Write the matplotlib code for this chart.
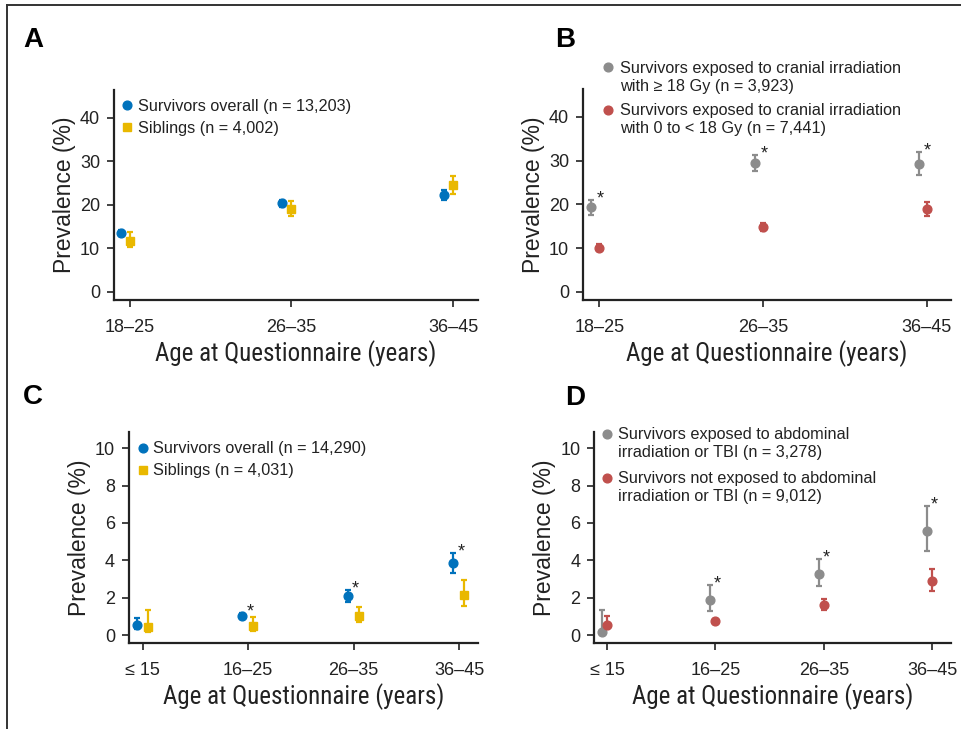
import matplotlib
matplotlib.use("Agg")
import matplotlib.pyplot as plt
from matplotlib.lines import Line2D
from matplotlib import font_manager as fm
import numpy as np

plt.rcParams['font.family'] = ['Liberation Sans', 'DejaVu Sans']
_installed = set(f.name for f in fm.fontManager.ttflist)
COND = next((n for n in ['Roboto Condensed', 'Archivo Narrow', 'Liberation Sans Narrow',
                         'PT Sans Narrow', 'Barlow Semi Condensed'] if n in _installed),
            'DejaVu Sans')

W, H = 961, 729
fig = plt.figure(figsize=(W / 100, H / 100), dpi=100)

BLUE = '#0072BC'
YELLOW = '#E9B800'
GRAY = '#8C8C8C'
RED = '#C0504D'
INK = '#222222'

# ---------------- data ----------------
cats_ab = ['18\u201325', '26\u201335', '36\u201345']
cats_cd = ['\u2264 15', '16\u201325', '26\u201335', '36\u201345']

# Panel A
a_surv = [13.5, 20.4, 22.3]
a_surv_lo = [12.8, 19.6, 21.1]
a_surv_hi = [14.2, 21.2, 23.5]
a_sib = [11.8, 19.1, 24.6]
a_sib_lo = [10.3, 17.5, 22.5]
a_sib_hi = [13.7, 20.8, 26.7]

# Panel B
b_hi = [19.4, 29.5, 29.3]
b_hi_lo = [17.7, 27.7, 26.7]
b_hi_hi = [21.1, 31.3, 32.0]
b_lo = [10.1, 14.9, 19.0]
b_lo_lo = [9.3, 14.0, 17.4]
b_lo_hi = [10.9, 15.8, 20.6]
b_star = [True, True, True]

# Panel C
c_surv = [0.52, 1.02, 2.07, 3.84]
c_surv_lo = [0.30, 0.87, 1.79, 3.32]
c_surv_hi = [0.89, 1.17, 2.41, 4.39]
c_sib = [0.41, 0.48, 1.02, 2.16]
c_sib_lo = [0.14, 0.23, 0.70, 1.57]
c_sib_hi = [1.36, 0.95, 1.50, 2.93]
c_star = [False, True, True, True]

# Panel D
d_exp = [0.18, 1.86, 3.29, 5.57]
d_exp_lo = [0.02, 1.30, 2.63, 4.50]
d_exp_hi = [1.34, 2.66, 4.09, 6.91]
d_not = [0.54, 0.73, 1.61, 2.91]
d_not_lo = [0.30, 0.61, 1.32, 2.37]
d_not_hi = [1.02, 0.85, 1.95, 3.55]
d_star = [False, True, True, True]

legA = ['Survivors overall (n = 13,203)', 'Siblings (n = 4,002)']
legB = ['Survivors exposed to cranial irradiation\nwith \u2265 18 Gy (n = 3,923)',
        'Survivors exposed to cranial irradiation\nwith 0 to < 18 Gy (n = 7,441)']
legC = ['Survivors overall (n = 14,290)', 'Siblings (n = 4,031)']
legD = ['Survivors exposed to abdominal\nirradiation or TBI (n = 3,278)',
        'Survivors not exposed to abdominal\nirradiation or TBI (n = 9,012)']


def px_axes(l, r, b, t):
    return fig.add_axes([l / W, 1 - b / H, (r - l) / W, (b - t) / H])


def style(ax, cats, xlim, ylim, yticks):
    ax.set_xlim(*xlim)
    ax.set_ylim(*ylim)
    ax.set_xticks(range(len(cats)))
    ax.set_xticklabels(cats, fontsize=13)
    ax.set_yticks(yticks)
    ax.set_yticklabels([str(v) for v in yticks], fontsize=13)
    for s in ['top', 'right']:
        ax.spines[s].set_visible(False)
    for s in ['left', 'bottom']:
        ax.spines[s].set_linewidth(1.6)
        ax.spines[s].set_color(INK)
    ax.tick_params(axis='both', direction='out', length=5, width=1.2,
                   color=INK, labelcolor=INK)
    ax.tick_params(axis='x', pad=9)
    ax.tick_params(axis='y', pad=5)
    ax.set_ylabel('Prevalence (%)', fontsize=16.5, color=INK, labelpad=3)
    ax.set_xlabel('Age at Questionnaire (years)', fontsize=18,
                  family=[COND, 'DejaVu Sans'], color=INK, labelpad=3)


def series(ax, xs, y, lo, hi, color, marker, ms):
    y = np.array(y)
    err = np.vstack([y - np.array(lo), np.array(hi) - y])
    ax.errorbar(xs, y, yerr=err, fmt=marker, color=color, ecolor=color,
                ms=ms, mec=color, elinewidth=1.6, capsize=2.5, capthick=1.6,
                zorder=3)


def stars(ax, flags, hi, dx=0.5):
    for i, (f, h) in enumerate(zip(flags, hi)):
        if f:
            ax.annotate('*', (i, h), xytext=(dx, 0.8), textcoords='offset points',
                        ha='center', va='center', fontsize=13, color=INK)


def manual_legend(x_mark, x_text, y_first, labels, markers, colors, sizes):
    # legend laid out in figure pixels; marker aligned with the first text line
    for y, lab, m, c, s in zip(y_first, labels, markers, colors, sizes):
        fig.add_artist(Line2D([x_mark / W], [1 - y / H], ls='', marker=m, color=c,
                              ms=s, transform=fig.transFigure))
        for k, line in enumerate(lab.split('\n')):
            fig.text(x_text / W, 1 - (y + 5.5 + 18 * k) / H, line, fontsize=11.7,
                     color=INK, ha='left', va='baseline')


# ---------------- Panel A ----------------
axA = px_axes(114, 478, 300, 90)
x = np.arange(3)
series(axA, x - 0.056, a_surv, a_surv_lo, a_surv_hi, BLUE, 'o', 6.3)
series(axA, x, a_sib, a_sib_lo, a_sib_hi, YELLOW, 's', 5.2)
style(axA, cats_ab, (-0.099, 2.155), (-1.84, 46.4), [0, 10, 20, 30, 40])
manual_legend(126.7, 138, [105, 127], legA, ['o', 's'], [BLUE, YELLOW], [6.3, 5.2])

# ---------------- Panel B ----------------
axB = px_axes(583, 951, 300, 89)
series(axB, x - 0.05, b_hi, b_hi_lo, b_hi_hi, GRAY, 'o', 6.3)
series(axB, x, b_lo, b_lo_lo, b_lo_hi, RED, 'o', 6.3)
stars(axB, b_star, b_hi_hi)
style(axB, cats_ab, (-0.1, 2.147), (-1.84, 46.4), [0, 10, 20, 30, 40])
manual_legend(608, 620, [67, 110], legB, ['o', 'o'], [GRAY, RED], [6.3, 6.3])

# ---------------- Panel C ----------------
x4 = np.arange(4)
axC = px_axes(129, 478, 642.7, 432)
series(axC, x4 - 0.054, c_surv, c_surv_lo, c_surv_hi, BLUE, 'o', 6.3)
series(axC, x4 + 0.047, c_sib, c_sib_lo, c_sib_hi, YELLOW, 's', 5.2)
stars(axC, c_star, [max(a, b) for a, b in zip(c_surv_hi, c_sib_hi)], dx=1.5)
style(axC, cats_cd, (-0.13, 3.18), (-0.41, 10.87), [0, 2, 4, 6, 8, 10])
manual_legend(143, 153, [448, 470], legC, ['o', 's'], [BLUE, YELLOW], [6.3, 5.2])

# ---------------- Panel D ----------------
axD = px_axes(594.3, 950.7, 642.7, 432)
series(axD, x4 - 0.046, d_exp, d_exp_lo, d_exp_hi, GRAY, 'o', 6.3)
series(axD, x4, d_not, d_not_lo, d_not_hi, RED, 'o', 6.3)
stars(axD, d_star, d_exp_hi, dx=1.5)
style(axD, cats_cd, (-0.117, 3.17), (-0.41, 10.87), [0, 2, 4, 6, 8, 10])
manual_legend(606.7, 617.7, [434, 478], legD, ['o', 'o'], [GRAY, RED], [6.3, 6.3])

# ---------------- panel letters ----------------
for lab, (px, py) in {'A': (23, 47), 'B': (555, 47), 'C': (23, 404), 'D': (565, 405)}.items():
    fig.text(px / W, 1 - py / H, lab, fontsize=20, fontweight='bold',
             ha='left', va='baseline', color='black')

# ---------------- outer frame ----------------
fig.add_artist(Line2D([7 / W, 7 / W], [0, 1 - 5 / H], color='#333333', lw=1.4,
                      transform=fig.transFigure))
fig.add_artist(Line2D([7 / W, 1], [1 - 5 / H, 1 - 5 / H], color='#333333', lw=1.4,
                      transform=fig.transFigure))

fig.savefig('out.png', dpi=100)
